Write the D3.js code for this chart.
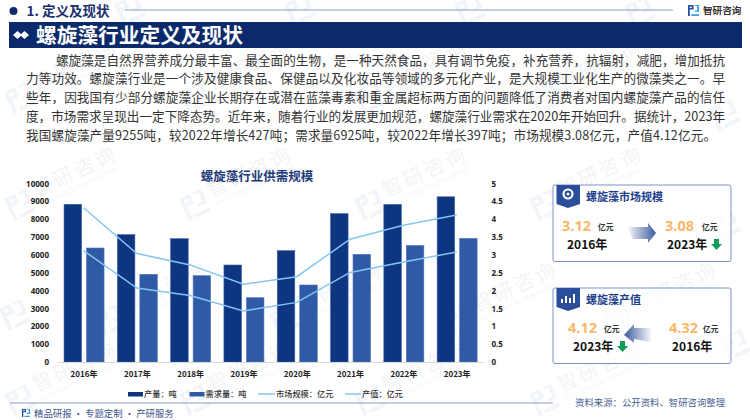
<!DOCTYPE html>
<html>
<head>
<meta charset="utf-8">
<script src="https://cdn.jsdelivr.net/npm/d3@7"></script>
<style>
  html, body { margin: 0; padding: 0; background: #fff; }
  svg { display: block; }
  text { font-family: "Noto Sans CJK SC", "Noto Sans", sans-serif; }
</style>
</head>
<body>
<div id="chart-container"></div>
<script>
const years = ['2016年', '2017年', '2018年', '2019年', '2020年', '2021年', '2022年', '2023年']
const production = [8834, 7133, 6908, 5434, 6237, 8310, 8828, 9255]
const demand = [6387, 4913, 4835, 3602, 4314, 6034, 6528, 6925]
const marketSize = [3.12, 2.07, 1.86, 1.43, 1.67, 2.51, 2.8, 3.08]
const outputValue = [4.32, 3.04, 2.72, 2.18, 2.39, 3.44, 3.83, 4.12]
const leftTicks = [0, 1000, 2000, 3000, 4000, 5000, 6000, 7000, 8000, 9000, 10000]
const rightTicks = [0, 0.5, 1, 1.5, 2, 2.5, 3, 3.5, 4, 4.5, 5]

const paragraph = [
  '螺旋藻是自然界营养成分最丰富、最全面的生物，是一种天然食品，具有调节免疫，补充营养，抗辐射，减肥，增加抵抗',
  '力等功效。螺旋藻行业是一个涉及健康食品、保健品以及化妆品等领域的多元化产业，是大规模工业化生产的微藻类之一。早',
  '些年，因我国有少部分螺旋藻企业长期存在或潜在蓝藻毒素和重金属超标两方面的问题降低了消费者对国内螺旋藻产品的信任',
  '度，市场需求呈现出一定下降态势。近年来，随着行业的发展更加规范，螺旋藻行业需求在2020年开始回升。据统计，2023年',
  '我国螺旋藻产量9255吨，较2022年增长427吨；需求量6925吨，较2022年增长397吨；市场规模3.08亿元，产值4.12亿元。'
]
const paragraphWidths = [669, 699, 699, 699, 690]

const w = 750, h = 420
const navy = '#0b2a6b', barDark = '#0d3580', barLight = '#2f5aa6', lineBlue = '#85c6f1'

const svg = d3.select('#chart-container')
  .append('svg')
  .attr('width', w)
  .attr('height', h)

const defs = svg.append('defs')
const fade = (id, from, to) => {
  const g = defs.append('linearGradient').attr('id', id)
    .attr('x1', from).attr('x2', to).attr('y1', 0).attr('y2', 0)
  g.append('stop').attr('offset', 0).attr('stop-color', '#3d5a9e').attr('stop-opacity', 0.05)
  g.append('stop').attr('offset', 1).attr('stop-color', '#3d5a9e')
}
fade('fadeRight', 0, 1)
fade('fadeLeft', 1, 0)

// the little company mark
const drawLogo = (g, s, c1, c2) => {
  g.append('path').attr('fill', c1)
    .attr('d', `M0 0H${s * .5}V${s * .42}H${s * .16}V${s}H0Z M${s * .16} ${s * .14}V${s * .28}H${s * .34}V${s * .14}Z`)
    .attr('fill-rule', 'evenodd')
  g.append('path').attr('fill', c2)
    .attr('d', `M${s * .62} 0H${s}V${s * .62}H${s * .62}V${s * .5}H${s * .84}V${s * .1}H${s * .62}Z M${s * .3} ${s * .84}H${s}V${s}H${s * .3}Z`)
}

// watermark, the ones on the edges are just the logo
const marks = [[20, 205], [195, 205], [370, 205], [545, 205],
  [20, 98], [195, 98], [370, 98], [545, 98],
  [110, 320], [285, 320], [460, 320], [620, 320],
  [20, 400], [195, 400], [370, 400], [545, 400]]
const edgeMarks = [[725, 115], [725, 225], [735, 345], [15, 315], [640, 12], [130, 10], [300, 10], [470, 10]]
const wm = svg.append('g')
marks.forEach(m => {
  const g = wm.append('g').attr('transform', `translate(${m[0]},${m[1]}) rotate(-25)`)
  drawLogo(g.append('g').attr('transform', 'translate(-12,-12)'), 24, '#f1f4f9', '#f1f4f9')
  g.append('text').attr('x', 18).attr('y', 0).attr('font-size', 20)
    .attr('letter-spacing', 3).attr('fill', '#f3f4f7').text('智研咨询')
  g.append('text').attr('x', 18).attr('y', 10).attr('font-size', 5.5)
    .attr('fill', '#f4f5f8').text('INTELLIGENCE RESEARCH GROUP')
})
edgeMarks.forEach(m => {
  const g = wm.append('g').attr('transform', `translate(${m[0]},${m[1]}) rotate(-25)`)
  drawLogo(g.append('g').attr('transform', 'translate(-12,-12)'), 24, '#f1f4f9', '#f1f4f9')
})

// top header
svg.append('circle').attr('cx', 13.5).attr('cy', 11).attr('r', 4).attr('fill', '#10296b')
svg.append('text').attr('x', 26.5).attr('y', 16).attr('font-size', 13.5)
  .attr('font-weight', 700).attr('fill', '#1a2f6e').text('1. 定义及现状')
svg.append('line').attr('x1', 125).attr('x2', 673).attr('y1', 10).attr('y2', 10)
  .attr('stroke', '#8a9cc5').attr('stroke-width', 1)
drawLogo(svg.append('g').attr('transform', 'translate(688,5)'), 11, '#1f4fa8', '#38a0e0')
svg.append('text').attr('x', 703).attr('y', 14).attr('font-size', 9.6)
  .attr('font-weight', 700).attr('fill', '#333').text('智研咨询')

svg.append('rect').attr('x', 9).attr('y', 22).attr('width', 733).attr('height', 26).attr('fill', navy)
svg.selectAll('.diamond').data([0, 1]).enter().append('path')
  .attr('fill', '#fff')
  .attr('d', d => { const c = 17.5 + d * 7; return `M${c - 4.5} 35L${c} 31L${c + 4.5} 35L${c} 39Z` })
svg.append('text').attr('x', 36).attr('y', 42.5).attr('font-size', 20.7)
  .attr('font-weight', 700).attr('fill', '#fff').text('螺旋藻行业定义及现状')

svg.selectAll('.para').data(paragraph).enter().append('text')
  .attr('class', 'para')
  .attr('x', (d, i) => i === 0 ? 56 : 26)
  .attr('y', (d, i) => 64.7 + i * 18.75)
  .attr('font-size', 12.6)
  .attr('fill', '#333')
  .attr('textLength', (d, i) => paragraphWidths[i])
  .attr('lengthAdjust', 'spacing')
  .text(d => d)

// chart
svg.append('text').attr('x', 257).attr('y', 180.5).attr('text-anchor', 'middle')
  .attr('font-size', 12.5).attr('font-weight', 700).attr('fill', '#1f3a7a').text('螺旋藻行业供需规模')

const xScale = d3.scaleBand().domain(years).range([57.4, 483.8])
const inner = d3.scaleBand().domain(['production', 'demand'])
  .range([xScale.bandwidth() / 2 - 20, xScale.bandwidth() / 2 + 20]).paddingInner(0.22)
const yLeft = d3.scaleLinear().domain([0, 10000]).range([362, 183.5])
const yRight = d3.scaleLinear().domain([0, 5]).range([362, 183.5])

const bars = (key, values, fill, stroke) => {
  svg.selectAll('.bar-' + key).data(values).enter().append('rect')
    .attr('class', 'bar-' + key)
    .attr('x', (d, i) => xScale(years[i]) + inner(key))
    .attr('y', d => yLeft(d))
    .attr('width', inner.bandwidth())
    .attr('height', d => yLeft(0) - yLeft(d))
    .attr('fill', fill)
    .attr('stroke', stroke)
    .attr('stroke-width', 0.6)
}
bars('production', production, barDark, '#3a5fa8')
bars('demand', demand, barLight, '#5577b8')

const lineGen = d3.line()
  .x((d, i) => xScale(years[i]) + xScale.bandwidth() / 2 - 0.5)
  .y(d => yRight(d))
;[marketSize, outputValue].forEach(s => {
  svg.append('path').datum(s).attr('d', lineGen)
    .attr('fill', 'none').attr('stroke', lineBlue).attr('stroke-width', 1.5)
})

const styleAxis = g => {
  g.select('.domain').remove()
  g.selectAll('text').attr('font-size', 8).attr('font-weight', 700).attr('fill', '#222')
    .style('font-family', '"Noto Sans", sans-serif')
}
svg.append('g').attr('transform', 'translate(52,0)')
  .call(d3.axisLeft(yLeft).tickValues(leftTicks).tickSize(0).tickPadding(3).tickFormat(d3.format('d')))
  .call(styleAxis)
svg.append('g').attr('transform', 'translate(488,0)')
  .call(d3.axisRight(yRight).tickValues(rightTicks).tickSize(0).tickPadding(3.5).tickFormat(d => d))
  .call(styleAxis)
svg.append('g').attr('transform', 'translate(0,362)')
  .call(d3.axisBottom(xScale).tickSize(0).tickPadding(9.5))
  .call(g => {
    g.select('.domain').attr('stroke', '#d9d9d9')
    g.selectAll('text').attr('font-size', 8).attr('font-weight', 700).attr('fill', '#222')
  })

// legend
const legend = [
  { label: '产量：吨', x: 128, w: 15, kind: 'bar', color: barDark },
  { label: '需求量：吨', x: 189.5, w: 15, kind: 'bar', color: barLight },
  { label: '市场规模：亿元', x: 258, w: 17, kind: 'line', color: lineBlue },
  { label: '产值：亿元', x: 345, w: 16, kind: 'line', color: lineBlue }
]
legend.forEach(d => {
  if (d.kind === 'bar') {
    svg.append('rect').attr('x', d.x).attr('y', 392).attr('width', d.w).attr('height', 4.5).attr('fill', d.color)
  } else {
    svg.append('line').attr('x1', d.x).attr('x2', d.x + d.w).attr('y1', 394).attr('y2', 394)
      .attr('stroke', d.color).attr('stroke-width', 1.5)
  }
  svg.append('text').attr('x', d.x + d.w + 1).attr('y', 397).attr('font-size', 8.2)
    .attr('font-weight', 500).attr('fill', '#333').text(d.label)
})

// footer
svg.append('line').attr('x1', 10).attr('x2', 553).attr('y1', 403).attr('y2', 403)
  .attr('stroke', '#8a9cc5').attr('stroke-width', 1)
drawLogo(svg.append('g').attr('transform', 'translate(22,409)'), 8, '#1f4fa8', '#38a0e0')
svg.append('text').attr('x', 34).attr('y', 417).attr('font-size', 9.4)
  .attr('fill', '#3f5590').text('精品研报 · 专题定制 · 产研服务')
svg.append('text').attr('x', 575).attr('y', 405.5).attr('font-size', 9.4)
  .attr('fill', '#4a5f94').text('资料来源：公开资料、智研咨询整理')

// side panels
const panel = (y, height, title) => {
  svg.append('rect').attr('x', 553).attr('y', y).attr('width', 178).attr('height', height)
    .attr('rx', 2).attr('fill', '#fff').attr('fill-opacity', 0.75).attr('stroke', '#7a93c8').attr('stroke-width', 1)
  svg.append('path').attr('fill', '#2a4d9c')
    .attr('d', `M556.5 ${y}H580V${y + 19}L568 ${y + 23}L556.5 ${y + 19}Z`)
  svg.append('text').attr('x', 586).attr('y', y + 15.5).attr('font-size', 11)
    .attr('font-weight', 700).attr('fill', '#1f3f8f').text(title)
}
const amount = (x, y, value, unitX) => {
  svg.append('text').attr('x', x).attr('y', y).attr('font-size', 14.5)
    .attr('font-weight', 700).attr('fill', '#f9b768')
    .style('font-family', '"Open Sans", sans-serif').text(value)
  svg.append('text').attr('x', unitX).attr('y', y - 1).attr('font-size', 7.8)
    .attr('font-weight', 700).attr('fill', '#333').text('亿元')
}
const yearLabel = (x, y, t) => {
  svg.append('text').attr('x', x).attr('y', y).attr('font-size', 12)
    .attr('font-weight', 700).attr('fill', '#111').text(t)
}
const greenArrow = (x, y) => {
  svg.append('path').attr('fill', '#0f9d58')
    .attr('d', `M${x + 3} ${y}H${x + 8}V${y + 5}H${x + 11}L${x + 5.5} ${y + 11}L${x} ${y + 5}H${x + 3}Z`)
}

panel(185, 76.5, '螺旋藻市场规模')
svg.append('circle').attr('cx', 568).attr('cy', 194).attr('r', 4.5).attr('fill', 'none')
  .attr('stroke', '#fff').attr('stroke-width', 2.2)
svg.append('circle').attr('cx', 568).attr('cy', 194).attr('r', 1.5).attr('fill', '#fff')
amount(562, 231, '3.12', 598)
yearLabel(567, 248.5, '2016年')
svg.append('path').attr('fill', 'url(#fadeRight)')
  .attr('d', 'M628 227H648V223L656 233L648 243V239H633Z')
amount(665, 231, '3.08', 702)
yearLabel(667, 248.5, '2023年')
greenArrow(711, 239)

panel(288, 75.5, '螺旋藻产值')
svg.append('path').attr('fill', '#fff')
  .attr('d', 'M561 303V299H563V303ZM565 303V296H567V303ZM569 303V298H571V303ZM573 303V294H575V303Z')
amount(568, 332.5, '4.12', 604)
yearLabel(573, 351, '2023年')
greenArrow(617, 341)
svg.append('path').attr('fill', 'url(#fadeLeft)')
  .attr('d', 'M651 328H634V324L624 335L634 343V339L651 342Z')
amount(669, 332.5, '4.32', 703)
yearLabel(672, 351, '2016年')
</script>
</body>
</html>
